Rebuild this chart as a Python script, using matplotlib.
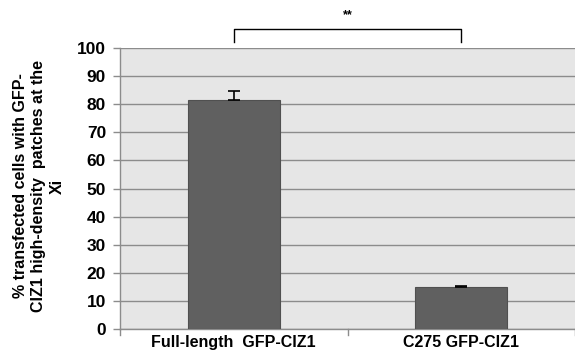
import matplotlib
matplotlib.use("Agg")
import matplotlib.pyplot as plt

categories = ["Full-length  GFP-CIZ1", "C275 GFP-CIZ1"]
values = [81.6, 14.8]
err_plus = [3.1, 0.4]
yticks = [0, 10, 20, 30, 40, 50, 60, 70, 80, 90, 100]
ylabel = "% transfected cells with GFP-\nCIZ1 high-density  patches at the\nXi"
sig = "**"

plt.rcParams['font.family'] = ['Liberation Sans', 'DejaVu Sans']

fig = plt.figure(figsize=(5.75, 3.54), dpi=100)
ax = fig.add_axes([120/575, 1-329/354, 1-120/575, (329-48)/354])
ax.set_facecolor('#e6e6e6')

x = list(range(len(categories)))
ax.bar(x, values, width=0.405, color='#606060', edgecolor='#505050', linewidth=0.8, zorder=3)
ax.errorbar(x, values, yerr=[[0]*len(values), err_plus], fmt='none', ecolor='black',
            elinewidth=1.2, capsize=4.5, capthick=1.2, zorder=4)

ax.set_xlim(-0.5, len(categories)-0.5)
ax.set_ylim(0, 100)
ax.set_yticks(yticks)
ax.set_yticklabels([str(t) for t in yticks], fontsize=12.5, fontweight='bold')
ax.yaxis.grid(True, color='#8c8c8c', linewidth=1.0, zorder=0)
ax.set_axisbelow(True)

ax.set_xticks(x)
ax.set_xticklabels(categories, fontsize=11.5, fontweight='bold')
ax.tick_params(axis='x', length=0, pad=4)
ax.tick_params(axis='y', length=5, color='#8c8c8c', width=1, pad=5)
# category boundary ticks
for b in [-0.5, 0.5, 1.5]:
    ax.plot([b, b], [0, -2.3], color='#8c8c8c', lw=1, clip_on=False)

for s in ['top', 'right']:
    ax.spines[s].set_visible(False)
for s in ['left', 'bottom']:
    ax.spines[s].set_color('#8c8c8c')
    ax.spines[s].set_linewidth(1)

fig.text(39/575, 1-186/354, ylabel, rotation=90, ha='center', va='center',
         multialignment='center', fontsize=11.5, fontweight='bold', linespacing=1.25)

# significance bracket
ax.plot([0, 0, 1, 1], [102.2, 106.9, 106.9, 102.2], color='black', lw=1, clip_on=False)
ax.text(0.5, 109.5, sig, ha='center', va='bottom', fontsize=9, fontweight='bold')

fig.savefig('out.png', dpi=100)
